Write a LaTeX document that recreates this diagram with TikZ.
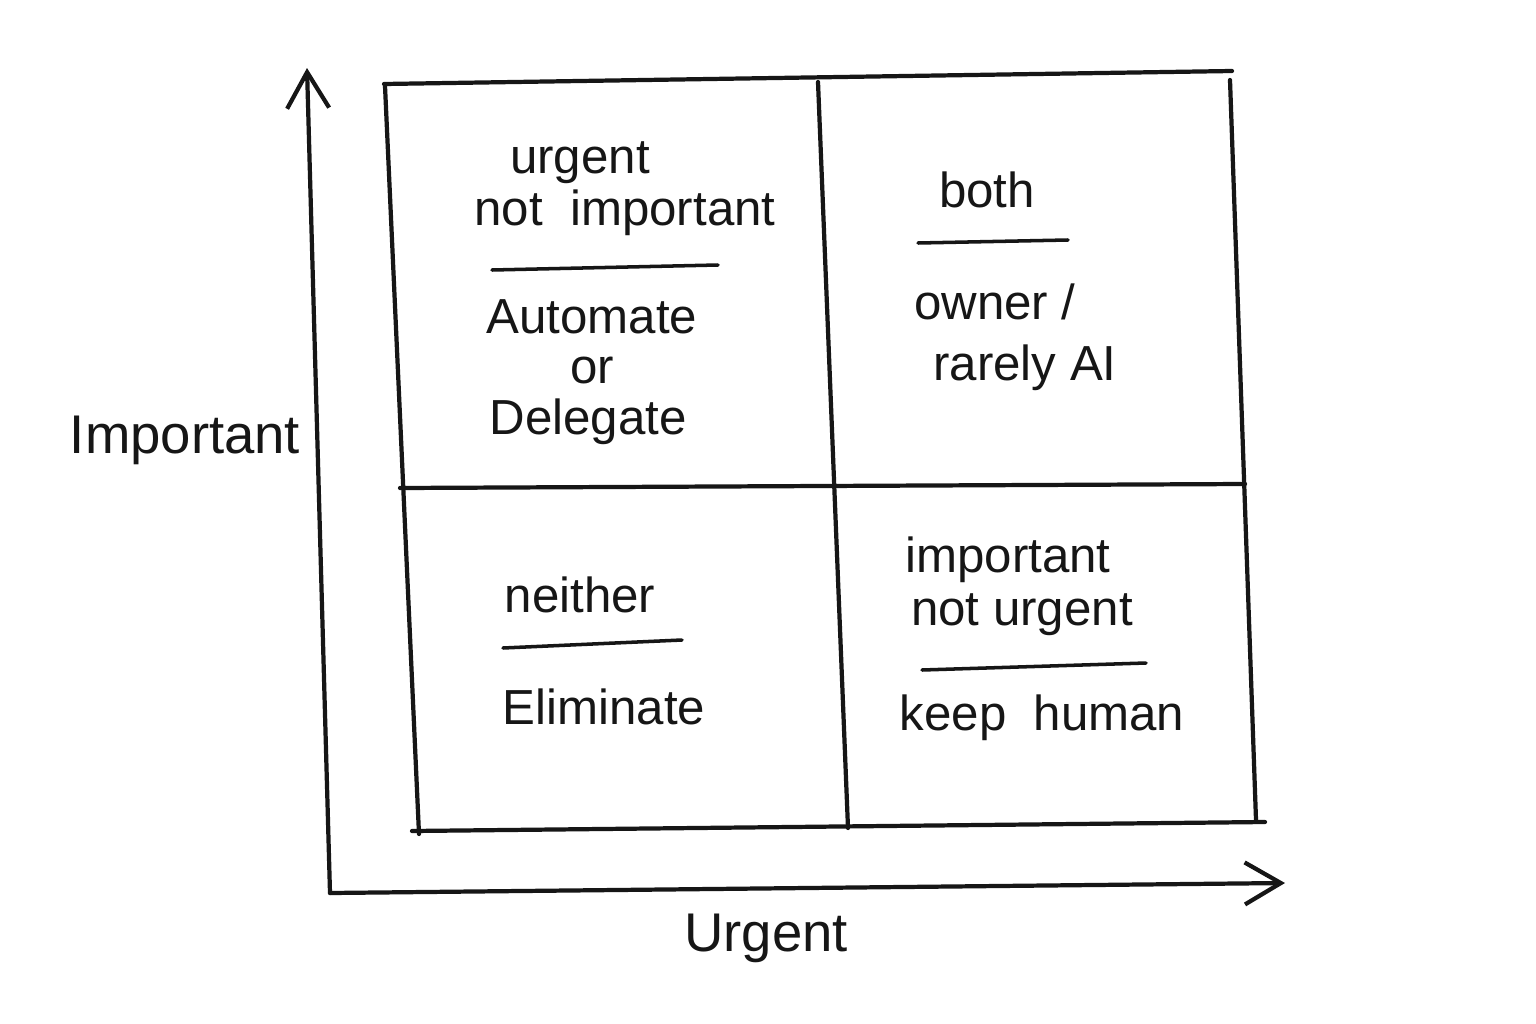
\documentclass[tikz,border=0pt]{standalone}
\usepackage{fontspec}
\setmainfont{Liberation Sans}
\usepackage{xcolor}
\definecolor{ink}{RGB}{22,22,22}
\definecolor{paper}{RGB}{255,255,255}
\usetikzlibrary{arrows.meta,positioning,calc}
\tikzset{
  %% pen strokes of the sketch
  pen/.style={draw=ink, line width=1.2pt, line cap=round, line join=round},
  rulestroke/.style={draw=ink, line width=1pt, line cap=round},
  axis/.style={pen, -{Straight Barb[length=3.6mm,width=4.2mm,line width=1.2pt]}},
  %% handwritten labels
  hand/.style={text=ink, font=\fontsize{14}{16}\selectfont, inner sep=1pt},
  axislabel/.style={hand, font=\fontsize{15.5}{18}\selectfont},
}

\begin{document}
\begin{tikzpicture}[x=0.01cm, y=-0.01cm]
\useasboundingbox[fill=paper] (0,0) rectangle (1536,1024);

%% axes
\coordinate (origin) at (330,893);
\coordinate (ytop) at (307,68);
\coordinate (xend) at (1285,883);
\draw[axis] (origin) -- (ytop);
\draw[axis] (origin) -- (xend);
\node[axislabel] (important) at (185,440) {Important};
\node[axislabel] (urgent) at (766,938) {Urgent};

%% grid of the matrix
\coordinate (tl) at (384,84);
\coordinate (tr) at (1232,71);
\coordinate (br) at (1265,822);
\coordinate (bl) at (412,831);
\draw[pen] (tl) -- (tr);
\draw[pen] (1230,80) -- (1256,820);
\draw[pen] (bl) -- (br);
\draw[pen] (385,86) -- (419,834);
\draw[pen] (818,82) -- (848,828);
\draw[pen] (400,488) -- (1245,484);

%% top left
\node[hand] (tlhead) at (580,163) {urgent};
\node[hand] (tlsub) at (625,213) {not\ \ important};
\draw[rulestroke] (492,270) -- (718,265);
\node[hand] (tlact) at (592,317) {Automate};
\node[hand] (tlor) at (592,370) {or};
\node[hand] (tlalt) at (588,422) {Delegate};

%% top right
\node[hand] (trhead) at (987,190) {both};
\draw[rulestroke] (918,243) -- (1068,240);
\node[hand] (trline) at (995,302) {owner /};
\node[hand] (tract) at (1025,368) {rarely AI};

%% bottom left
\node[hand] (blhead) at (580,595) {neither};
\draw[rulestroke] (503,648) -- (682,640);
\node[hand] (blact) at (604,707) {Eliminate};

%% bottom right
\node[hand] (brhead) at (1008,560) {important};
\node[hand] (brsub) at (1022,615) {not\ urgent};
\draw[rulestroke] (922,670) -- (1146,663);
\node[hand] (bract) at (1042,718) {keep\ \ human};
\end{tikzpicture}
\end{document}
